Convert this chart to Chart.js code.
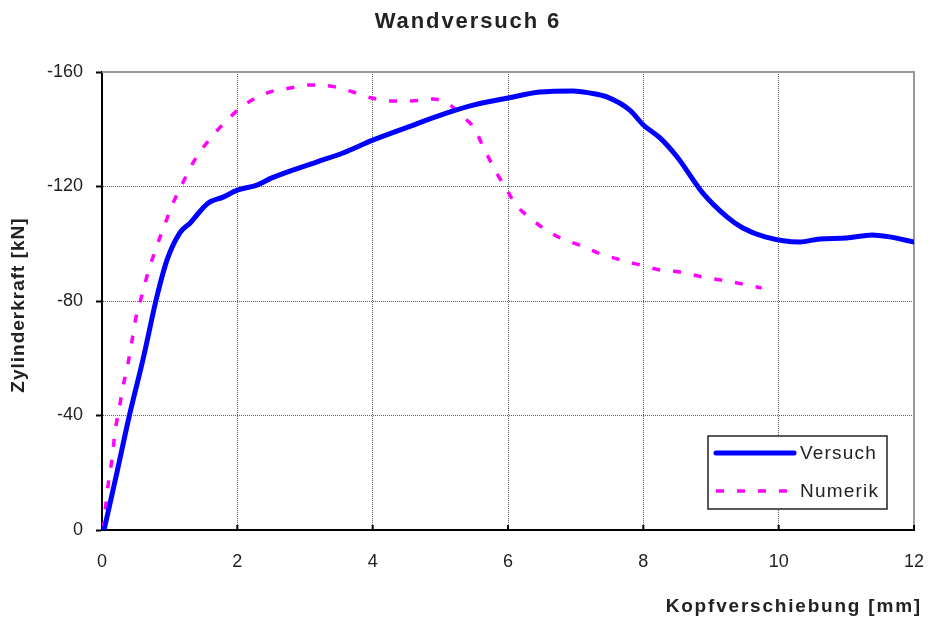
<!DOCTYPE html>
<html lang="de">
<head>
<meta charset="utf-8">
<title>Wandversuch 6</title>
<script src="https://cdn.jsdelivr.net/npm/chart.js@4/dist/chart.umd.min.js"></script>
<style>
    html, body { margin: 0; padding: 0; background: #fff; }
    #box { width: 928px; height: 618px; position: relative; }
</style>
</head>
<body>
<div id="box"><canvas id="grafik"></canvas></div>
<script>
// Werte
const versuchX = [0.03, 0.22, 0.40, 0.61, 0.81, 0.96, 1.15, 1.30, 1.57, 1.79, 2.01, 2.29, 2.51, 3.18, 3.56, 4.00, 4.50, 5.10, 5.50, 6.00, 6.47, 6.96, 7.20, 7.46, 7.80, 8.00, 8.25, 8.50, 8.88, 9.24, 9.47, 9.80, 10.31, 10.61, 11.00, 11.38, 11.64, 12.00];
const versuchY = [0, -20, -39.5, -60, -81.4, -94.3, -103.8, -107.2, -114.2, -116.3, -118.8, -120.5, -123, -128.6, -131.7, -136.2, -140.6, -145.7, -148.5, -150.9, -153, -153.4, -152.7, -151.3, -146.7, -141.5, -136.9, -130.3, -117.7, -109.3, -105.5, -102.4, -100.6, -101.7, -102, -103.1, -102.4, -100.6];

const numerikX = [0, 0.06, 0.10, 0.15, 0.19, 0.25, 0.31, 0.38, 0.44, 0.50, 0.59, 0.68, 0.80, 0.92, 1.05, 1.20, 1.37, 1.57, 1.82, 2.08, 2.44, 2.78, 3.10, 3.44, 3.71, 3.99, 4.26, 4.58, 4.89, 5.14, 5.34, 5.51, 5.62, 5.73, 5.85, 6.00, 6.13, 6.31, 6.52, 6.80, 7.05, 7.33, 7.61, 8.00, 8.25, 8.54, 8.87, 9.16, 9.47, 9.75];
const numerikY = [0, -9.4, -17.5, -25, -33.9, -41.9, -50, -57.6, -65.7, -74, -82, -90, -98.5, -106.2, -114.2, -121.6, -129.3, -135.9, -142.5, -148.1, -152.7, -154.4, -155.5, -154.8, -153, -150.9, -149.9, -149.9, -150.6, -148.5, -144.3, -140.1, -134.5, -129.3, -124, -118.1, -113.2, -109.3, -105.5, -101.7, -99.6, -96.8, -94.7, -92.3, -90.8, -90.1, -88.4, -87.3, -85.9, -84.5];

const xTicks = [0, 2, 4, 6, 8, 10, 12];
const yTicks = [0, -40, -80, -120, -160];

const titel = 'Wandversuch 6';
const xTitel = 'Kopfverschiebung [mm]';
const yTitel = 'Zylinderkraft [kN]';
const serienNamen = ['Versuch', 'Numerik'];

const SCHRIFT = '"Liberation Sans", Arial, sans-serif';

function zuPunkten(xs, ys) {
    return xs.map((x, i) => ({ x, y: ys[i] }));
}

function textMitAbstand(ctx, text, x, y, abstand) {
    ctx.letterSpacing = abstand + 'px';
    ctx.fillText(text, x, y);
    ctx.letterSpacing = '0px';
}

const rahmenPlugin = {
    id: 'rahmen',
    beforeDatasetsDraw(chart) {
        const { ctx, chartArea: a } = chart;
        ctx.save();
        ctx.strokeStyle = '#9a9a9a';
        ctx.lineWidth = 2;
        ctx.beginPath();
        ctx.moveTo(a.left, a.top);
        ctx.lineTo(a.right, a.top);
        ctx.lineTo(a.right, a.bottom);
        ctx.stroke();

        // kurze Striche nach innen an der x-Achse
        ctx.strokeStyle = '#000';
        ctx.lineWidth = 2;
        const sx = chart.scales.x;
        xTicks.forEach(v => {
            const px = sx.getPixelForValue(v);
            ctx.beginPath();
            ctx.moveTo(px, a.bottom);
            ctx.lineTo(px, a.bottom - 5);
            ctx.stroke();
        });
        ctx.restore();
    },
    afterDraw(chart) {
        const { ctx } = chart;
        ctx.save();
        ctx.fillStyle = '#222';

        ctx.font = 'bold 22px ' + SCHRIFT;
        ctx.textAlign = 'center';
        ctx.textBaseline = 'alphabetic';
        textMitAbstand(ctx, titel, 468, 28, 1.9);

        ctx.font = 'bold 19px ' + SCHRIFT;
        ctx.textAlign = 'right';
        textMitAbstand(ctx, xTitel, 922, 612, 1.8);

        ctx.translate(19, 305);
        ctx.rotate(-Math.PI / 2);
        ctx.textAlign = 'center';
        ctx.textBaseline = 'middle';
        textMitAbstand(ctx, yTitel, 0, 0, 1);
        ctx.restore();

        // Legende
        ctx.save();
        const lx = 708, ly = 436, lw = 179, lh = 73;
        ctx.fillStyle = '#fff';
        ctx.fillRect(lx, ly, lw, lh);
        ctx.strokeStyle = '#222';
        ctx.lineWidth = 1.5;
        ctx.strokeRect(lx, ly, lw, lh);

        const zeilen = [453, 491];
        chart.data.datasets.forEach((ds, i) => {
            const y = zeilen[i];
            ctx.strokeStyle = ds.borderColor;
            ctx.lineWidth = ds.borderWidth;
            ctx.lineCap = ds.borderCapStyle || 'butt';
            ctx.setLineDash(ds.borderDash || []);
            ctx.beginPath();
            ctx.moveTo(716, y);
            ctx.lineTo(794, y);
            ctx.stroke();
            ctx.setLineDash([]);

            ctx.fillStyle = '#222';
            ctx.font = '19px ' + SCHRIFT;
            ctx.textAlign = 'left';
            ctx.textBaseline = 'middle';
            textMitAbstand(ctx, ds.label, 800, y + 1, 1.2);
        });
        ctx.restore();
    }
};

new Chart(document.getElementById('grafik').getContext('2d'), {
    type: 'line',
    data: {
        datasets: [
            {
                label: serienNamen[0],
                data: zuPunkten(versuchX, versuchY),
                borderColor: '#0000ff',
                borderWidth: 5,
                borderCapStyle: 'round',
                borderJoinStyle: 'round',
                pointRadius: 0,
                cubicInterpolationMode: 'monotone',
                fill: false
            },
            {
                label: serienNamen[1],
                data: zuPunkten(numerikX, numerikY),
                borderColor: '#ff00ff',
                borderWidth: 3.5,
                borderDash: [8, 13],
                borderCapStyle: 'butt',
                pointRadius: 0,
                cubicInterpolationMode: 'monotone',
                fill: false
            }
        ]
    },
    options: {
        responsive: true,
        maintainAspectRatio: false,
        animation: false,
        layout: {
            padding: { top: 72, right: 14, left: 0, bottom: 0 }
        },
        plugins: {
            legend: { display: false },
            title: { display: false },
            tooltip: { enabled: false }
        },
        scales: {
            x: {
                type: 'linear',
                min: 0,
                max: 12,
                afterBuildTicks: s => { s.ticks = xTicks.map(v => ({ value: v })); },
                afterFit: s => {
                    s.height = 88;
                    s.paddingLeft = 0;
                    s.paddingRight = 0;
                },
                ticks: {
                    color: '#222',
                    font: { family: SCHRIFT, size: 18 },
                    padding: 21,
                    maxRotation: 0,
                    callback: v => String(v)
                },
                grid: {
                    color: '#5e5e5e',
                    lineWidth: 1,
                    drawTicks: false
                },
                border: {
                    color: '#000',
                    width: 2,
                    dash: [1, 1]
                }
            },
            y: {
                type: 'linear',
                min: -160,
                max: 0,
                reverse: true,
                afterBuildTicks: s => { s.ticks = yTicks.map(v => ({ value: v })); },
                afterFit: s => {
                    s.width = 102;
                    s.paddingTop = 0;
                    s.paddingBottom = 0;
                },
                ticks: {
                    color: '#222',
                    font: { family: SCHRIFT, size: 18 },
                    padding: 13,
                    callback: v => String(v)
                },
                grid: {
                    color: '#5e5e5e',
                    lineWidth: 1,
                    tickLength: 6,
                    tickColor: '#000',
                    tickWidth: 2,
                    tickBorderDash: []
                },
                border: {
                    color: '#000',
                    width: 2,
                    dash: [1, 1]
                }
            }
        }
    },
    plugins: [rahmenPlugin]
});
</script>
</body>
</html>
